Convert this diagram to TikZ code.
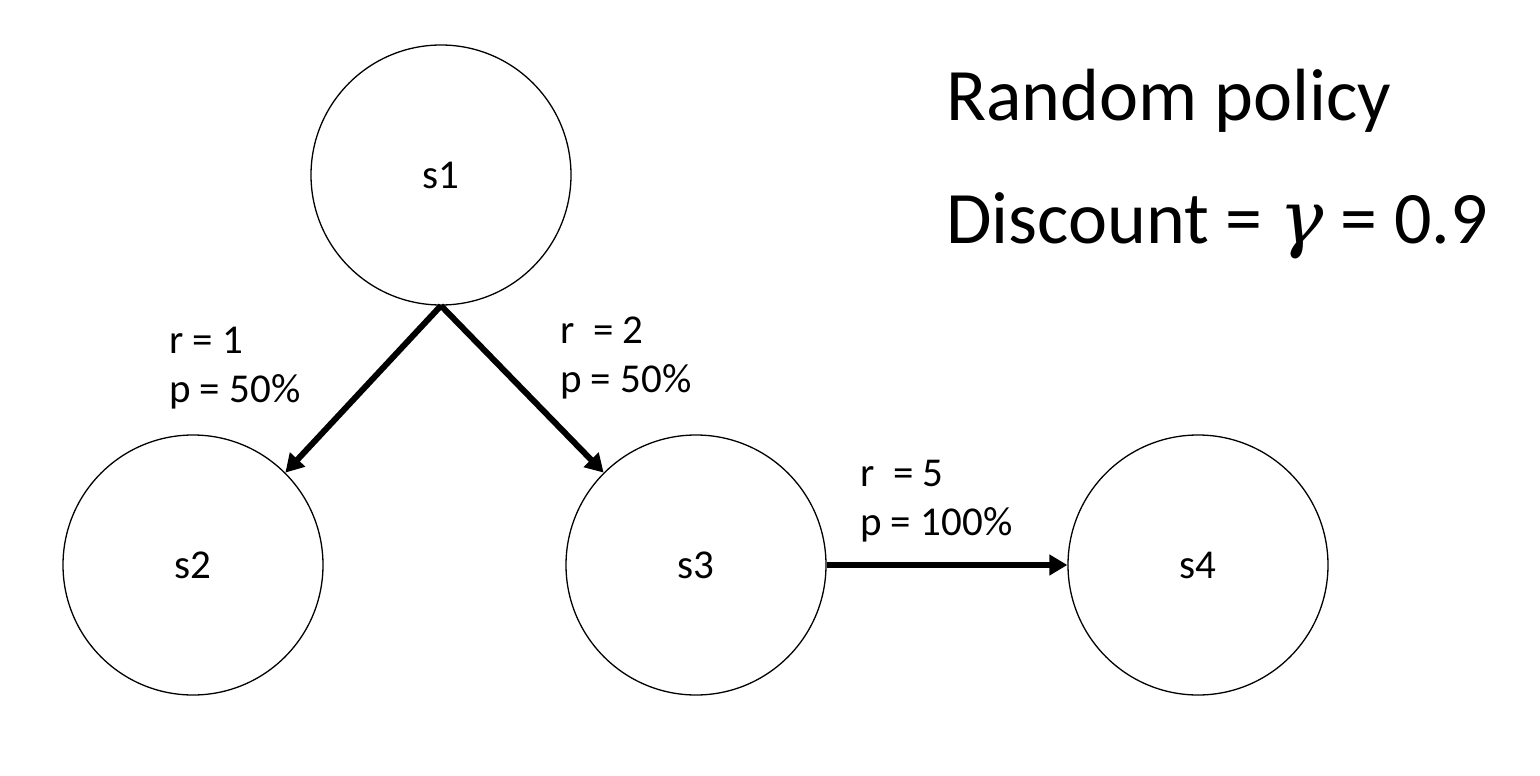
\documentclass[tikz,border=0pt]{standalone}
\usepackage{fontspec}
\setmainfont{Carlito}
\newfontfamily\gammafont{DejaVu Serif}
\usetikzlibrary{arrows.meta}
\tikzset{
  state/.style={draw, line width=1.3pt, circle, minimum size=260pt, inner sep=0pt, font=\fontsize{41}{50}\selectfont},
  trans/.style={line width=6pt, -{Triangle[length=18pt,width=20pt]}},
  lbl/.style={anchor=base west, align=left, inner sep=0pt, font=\fontsize{41}{49}\selectfont},
  big/.style={anchor=base west, inner sep=0pt, font=\fontsize{74}{88}\selectfont}
}
\begin{document}
\begin{tikzpicture}[x=1pt,y=-1pt]
\useasboundingbox (0,0) rectangle (1540,776);
\node[state] (s1) at (441,175) {s1};
\node[state] (s2) at (193,565) {s2};
\node[state] (s3) at (696,565) {s3};
\node[state] (s4) at (1198,565) {s4};
\draw[trans] (s1.south) -- (s2.45);
\draw[trans] (s1.south) -- (s3.135);
\draw[trans] (s3.east) -- (s4.west);
\node[lbl] (l1) at (169,402) {r = 1\\p = 50\%};
\node[lbl] (l2) at (560,392) {r\ \ = 2\\p = 50\%};
\node[lbl] (l3) at (860,535) {r\ \ = 5\\p = 100\%};
\node[big] (t1) at (946,121) {Random policy};
\node[big] (t2) at (946,243) {Discount = {\gammafont\itshape γ} = 0.9};
\end{tikzpicture}
\end{document}
